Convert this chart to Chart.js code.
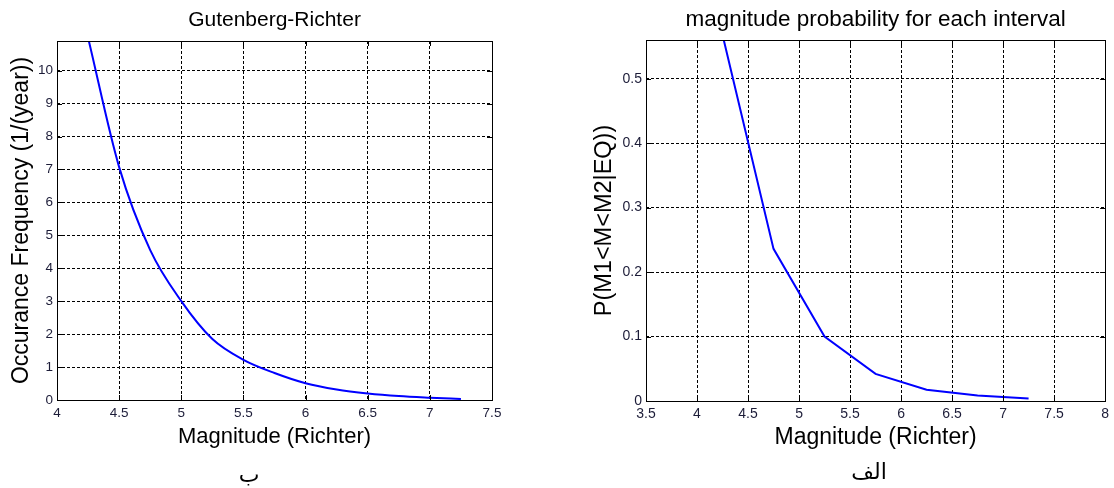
<!DOCTYPE html>
<html>
<head>
<meta charset="utf-8">
<script src="https://cdn.jsdelivr.net/npm/chart.js@4/dist/chart.umd.min.js"></script>
<style>
  html, body { margin: 0; padding: 0; background: #fff; }
  #wrap { position: relative; width: 1114px; height: 488px; overflow: hidden; }
  .box { position: absolute; top: 0; }
  .ar { position: absolute; font-family: 'DejaVu Sans', sans-serif; font-size: 22px; color: #000;
        transform: translateX(-50%); line-height: 1; }
</style>
</head>
<body>
<div id="wrap">
  <div class="box" style="left:0;width:530px;height:488px"><canvas id="grChart" width="530" height="488"></canvas></div>
  <div class="box" style="left:560px;width:554px;height:488px"><canvas id="probChart" width="554" height="488"></canvas></div>
  <div class="ar" dir="rtl" style="left:249px;top:464px">ب</div>
  <div class="ar" dir="rtl" style="left:869px;top:461px">الف</div>
</div>
<script>
// --- datos ---
// Gutenberg-Richter (izquierda)
const grMag  = [4.25, 4.5, 4.75, 5.0, 5.25, 5.5, 5.75, 6.0, 6.25, 6.5, 6.75, 7.0, 7.25];
const grFreq = [11.0, 7.07, 4.55, 3.0, 1.85, 1.22, 0.82, 0.51, 0.32, 0.2, 0.12, 0.07, 0.03];
const grXTicks = [4, 4.5, 5, 5.5, 6, 6.5, 7, 7.5];
const grYTicks = [0, 1, 2, 3, 4, 5, 6, 7, 8, 9, 10];

// probabilidad por intervalo (derecha)
const pMag  = [4.25, 4.75, 5.25, 5.75, 6.25, 6.75, 7.25];
const pProb = [0.568, 0.236, 0.100, 0.042, 0.0175, 0.0085, 0.004];
const pXTicks = [3.5, 4, 4.5, 5, 5.5, 6, 6.5, 7, 7.5, 8];
const pYTicks = [0, 0.1, 0.2, 0.3, 0.4, 0.5];

const FONT = "'Liberation Sans', Arial, sans-serif";
const TICK_COLOR = '#1c1c38';

// caja completa + marcas hacia dentro (estilo MATLAB)
const boxPlugin = {
  id: 'box',
  afterDraw(chart) {
    const { ctx, chartArea: a, scales } = chart;
    ctx.save();
    ctx.strokeStyle = '#000';
    ctx.lineWidth = 1;
    ctx.setLineDash([]);
    ctx.strokeRect(Math.round(a.left) + 0.5, Math.round(a.top) + 0.5,
                   Math.round(a.right - a.left), Math.round(a.bottom - a.top));
    const tl = 5;
    ctx.beginPath();
    scales.x.ticks.forEach(t => {
      const px = Math.round(scales.x.getPixelForValue(t.value)) + 0.5;
      ctx.moveTo(px, a.bottom); ctx.lineTo(px, a.bottom - tl);
      ctx.moveTo(px, a.top); ctx.lineTo(px, a.top + tl);
    });
    scales.y.ticks.forEach(t => {
      const py = Math.round(scales.y.getPixelForValue(t.value)) + 0.5;
      ctx.moveTo(a.left, py); ctx.lineTo(a.left + tl, py);
      ctx.moveTo(a.right, py); ctx.lineTo(a.right - tl, py);
    });
    ctx.stroke();
    ctx.restore();
  }
};

function makeChart(id, cfg) {
  const pts = cfg.xs.map((x, i) => ({ x: x, y: cfg.ys[i] }));
  return new Chart(document.getElementById(id), {
    type: 'line',
    data: {
      datasets: [{
        data: pts,
        borderColor: '#0000ff',
        borderWidth: 2,
        pointRadius: 0,
        fill: false,
        clip: 0,
        tension: cfg.smooth ? 0.4 : 0,
        cubicInterpolationMode: cfg.smooth ? 'monotone' : 'default'
      }]
    },
    options: {
      responsive: false,
      animation: false,
      devicePixelRatio: 1,
      layout: { padding: { left: 0, right: cfg.padRight, top: 0, bottom: 0 } },
      plugins: {
        legend: { display: false },
        tooltip: { enabled: false },
        title: {
          display: true,
          text: cfg.title,
          fullSize: false,
          color: '#000',
          font: { family: FONT, size: cfg.titleSize, weight: 'normal' },
          padding: cfg.titlePad
        }
      },
      scales: {
        x: {
          type: 'linear',
          min: cfg.xTicks[0],
          max: cfg.xTicks[cfg.xTicks.length - 1],
          afterFit: s => { s.height = cfg.xAxisH; },
          afterBuildTicks: s => { s.ticks = cfg.xTicks.map(v => ({ value: v })); },
          grid: { color: '#000', lineWidth: 1, drawTicks: false },
          border: { display: false, dash: [3, 2] },
          ticks: {
            color: TICK_COLOR, padding: cfg.xTickPad, maxRotation: 0, autoSkip: false,
            font: { family: FONT, size: cfg.tickSize },
            callback: v => String(+v.toFixed(2))
          },
          title: {
            display: true, text: 'Magnitude (Richter)', color: '#000',
            font: { family: FONT, size: cfg.axisSize },
            padding: { top: 0, bottom: cfg.xTitlePad }
          }
        },
        y: {
          type: 'linear',
          min: 0,
          max: cfg.yMax,
          afterFit: s => { s.width = cfg.yAxisW; },
          afterBuildTicks: s => { s.ticks = cfg.yTicks.map(v => ({ value: v })); },
          grid: { color: '#000', lineWidth: 1, drawTicks: false },
          border: { display: false, dash: [3, 2] },
          ticks: {
            color: TICK_COLOR, padding: cfg.yTickPad,
            font: { family: FONT, size: cfg.tickSize },
            callback: v => String(+v.toFixed(2))
          },
          title: {
            display: true, text: cfg.yTitle, color: '#000',
            font: { family: FONT, size: cfg.yAxisSize },
            padding: { top: cfg.yTitlePad, bottom: 0 }
          }
        }
      }
    },
    plugins: [boxPlugin]
  });
}

makeChart('grChart', {
  xs: grMag, ys: grFreq, smooth: true,
  xTicks: grXTicks, yTicks: grYTicks, yMax: 10.9,
  title: 'Gutenberg-Richter', titleSize: 21, titlePad: { top: 8, bottom: 7.8 },
  yTitle: 'Occurance Frequency (1/(year))',
  padRight: 38, yAxisW: 57, xAxisH: 88,
  tickSize: 13.5, axisSize: 22, yAxisSize: 23, xTickPad: 5, yTickPad: 4,
  xTitlePad: 38, yTitlePad: 7.5
});

makeChart('probChart', {
  xs: pMag, ys: pProb, smooth: false,
  xTicks: pXTicks, yTicks: pYTicks, yMax: 0.56,
  title: 'magnitude probability for each interval', titleSize: 22.5, titlePad: { top: 6, bottom: 7 },
  yTitle: 'P(M1<M<M2|EQ))',
  padRight: 6, yAxisW: 86, xAxisH: 87,
  tickSize: 14, axisSize: 23, yAxisSize: 23.5, xTickPad: 5, yTickPad: 4,
  xTitlePad: 37, yTitlePad: 30
});
</script>
</body>
</html>
